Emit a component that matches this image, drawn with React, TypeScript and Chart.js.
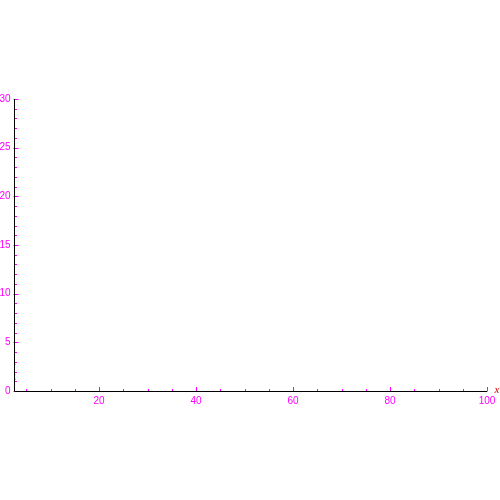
import { useEffect, useRef } from "react";
import { Chart, registerables } from "chart.js";

Chart.register(...registerables);

// axis ranges
const xRange = [2.47, 100];
const yRange = [0, 30];

// labelled ticks
const xMajor = [20, 40, 60, 80, 100];
const yMajor = [0, 5, 10, 15, 20, 25, 30];

// unlabelled ticks
const xMinor = [5, 10, 15, 25, 30, 35, 45, 50, 55, 65, 70, 75, 85, 90, 95];
const yMinor = [1, 2, 3, 4, 6, 7, 8, 9, 11, 12, 13, 14, 16, 17, 18, 19, 21, 22, 23, 24, 26, 27, 28, 29];

// the few faint points sitting on the y axis
const pointX = [2.6, 2.6, 2.6];
const pointY = [2.75, 1.7, 1.2];
const pointColors = ["#b09aa8", "#a8c090", "#4caa60"];

const tickColor = "#ff00ff";
const axisColor = "#000000";
const font = "10px 'Liberation Sans', Arial, sans-serif";

const axesPlugin = {
  id: "mmaAxes",
  afterDraw(chart: any) {
    const ctx = chart.ctx;
    const xs = chart.scales.x;
    const ys = chart.scales.y;
    const x0 = Math.round(xs.getPixelForValue(xRange[0])) + 0.5;
    const x1 = xs.getPixelForValue(xRange[1]);
    const y0 = Math.round(ys.getPixelForValue(yRange[0])) + 0.5;
    const y1 = ys.getPixelForValue(yRange[1]);

    ctx.save();
    ctx.lineWidth = 1;

    // ticks, pointing into the plot
    ctx.strokeStyle = tickColor;
    ctx.beginPath();
    xMajor.forEach((v) => {
      const px = Math.round(xs.getPixelForValue(v)) + 0.5;
      ctx.moveTo(px, y0);
      ctx.lineTo(px, y0 - 4.5);
    });
    xMinor.forEach((v) => {
      const px = Math.round(xs.getPixelForValue(v)) + 0.5;
      ctx.moveTo(px, y0);
      ctx.lineTo(px, y0 - 2.5);
    });
    yMajor.forEach((v) => {
      const py = Math.round(ys.getPixelForValue(v)) + 0.5;
      ctx.moveTo(x0 - 1, py);
      ctx.lineTo(x0 + 4, py);
    });
    yMinor.forEach((v) => {
      const py = Math.round(ys.getPixelForValue(v)) + 0.5;
      ctx.moveTo(x0, py);
      ctx.lineTo(x0 + 2.5, py);
    });
    ctx.stroke();

    // axis lines
    ctx.strokeStyle = axisColor;
    ctx.beginPath();
    ctx.moveTo(x0, y0);
    ctx.lineTo(x1, y0);
    ctx.moveTo(x0, y0);
    ctx.lineTo(x0, y1);
    ctx.stroke();

    // tick labels
    ctx.fillStyle = tickColor;
    ctx.font = font;
    ctx.textAlign = "center";
    ctx.textBaseline = "middle";
    xMajor.forEach((v) => {
      ctx.fillText(String(v), xs.getPixelForValue(v), y0 + 10);
    });
    ctx.textAlign = "right";
    yMajor.forEach((v) => {
      ctx.fillText(String(v), x0 - 4, ys.getPixelForValue(v));
    });

    // axis name
    ctx.fillStyle = "#dd0000";
    ctx.font = "italic 11px 'Liberation Serif', serif";
    ctx.textAlign = "center";
    ctx.fillText("x", x1 + 10, y0 - 1);
    ctx.restore();
  },
};

export default function App() {
  const canvasRef = useRef<HTMLCanvasElement>(null);

  useEffect(() => {
    const canvas = canvasRef.current;
    if (!canvas) return;

    const chart = new Chart(canvas.getContext("2d")!, {
      type: "scatter",
      data: {
        datasets: [
          {
            data: pointX.map((x, i) => ({ x, y: pointY[i] })),
            pointBackgroundColor: pointColors,
            pointBorderWidth: 0,
            pointRadius: 1,
            showLine: false,
          },
        ],
      },
      options: {
        animation: false,
        responsive: true,
        maintainAspectRatio: false,
        layout: { padding: { left: 14, right: 13, top: 99, bottom: 109 } },
        plugins: { legend: { display: false }, tooltip: { enabled: false } },
        scales: {
          x: { type: "linear", min: xRange[0], max: xRange[1], display: false },
          y: { type: "linear", min: yRange[0], max: yRange[1], display: false },
        },
      },
      plugins: [axesPlugin],
    });

    return () => chart.destroy();
  }, []);

  return (
    <div style={{ position: "fixed", left: 0, top: 0, width: 500, height: 500, background: "#fff" }}>
      <canvas ref={canvasRef} />
    </div>
  );
}
